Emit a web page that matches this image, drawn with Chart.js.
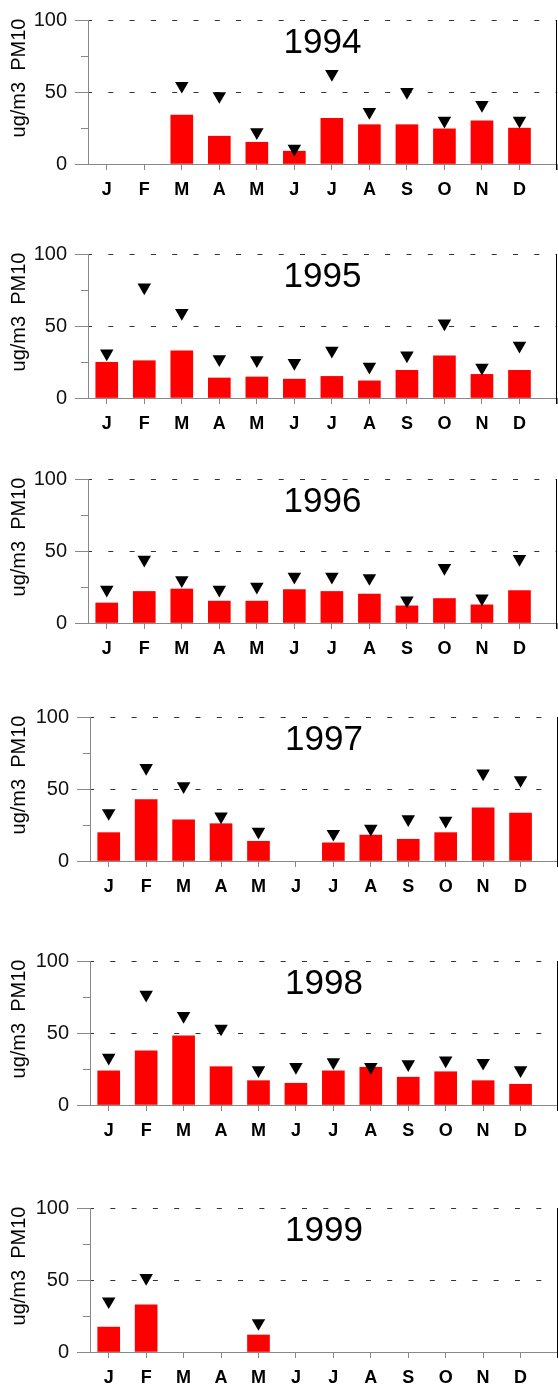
<!DOCTYPE html>
<html>
<head>
<meta charset="utf-8">
<script src="https://cdn.jsdelivr.net/npm/chart.js@4"></script>
<style>
  html, body { margin: 0; padding: 0; background: #fff; }
  body { width: 558px; height: 1391px; position: relative; overflow: hidden; }
  .panel { position: absolute; left: 0; width: 558px; height: 210px; }
</style>
</head>
<body>
<div id="charts"></div>
<script>
// month labels and the years shown
const months = ["J", "F", "M", "A", "M", "J", "J", "A", "S", "O", "N", "D"];
const years = ["1994", "1995", "1996", "1997", "1998", "1999"];

// monthly mean PM10 (red bars)
const mean1994 = [null, null, 34, 19.3, 15.1, 8.9, 31.8, 27.3, 27.3, 24.4, 30, 24.9];
const mean1995 = [24.8, 25.9, 32.7, 13.9, 14.6, 13.1, 15, 11.9, 19.2, 29.2, 16.4, 19.2];
const mean1996 = [13.9, 21.9, 23.6, 15.2, 15.2, 23.2, 21.9, 20.1, 11.9, 17, 12.6, 22.5];
const mean1997 = [19.7, 42.6, 28.6, 25.9, 13.7, null, 12.6, 18, 15.1, 19.7, 37, 33.3];
const mean1998 = [23.7, 37.7, 48.1, 26.6, 16.9, 15.1, 23.7, 26.2, 19.3, 23.1, 16.9, 14.4];
const mean1999 = [17.3, 32.7, null, null, 11.8, null, null, null, null, null, null, null];

// monthly maximum PM10 (black triangles)
const max1994 = [null, null, 54.3, 47.2, 22.1, 10.7, 62.5, 36.1, 50.1, 30.1, 41, 30.1];
const max1995 = [31, 76.8, 59.1, 26.9, 26.2, 24.4, 32.8, 21.7, 29.5, 51.8, 21, 36.3];
const max1996 = [23.2, 44, 29.8, 23.2, 25.2, 32.2, 32.2, 31.2, 15.7, 38.3, 17.1, 44.5];
const max1997 = [33.3, 64.6, 52, 30.9, 20.3, null, 18.9, 22.5, 29.1, 28, 60.8, 56.2];
const max1998 = [32.9, 76.6, 61.9, 53.1, 24.2, 26.4, 29.8, 26.4, 28.4, 31, 29.3, 24.2];
const max1999 = [35.2, 51.4, null, null, 20.1, null, null, null, null, null, null, null];

// y axis
const yTicks = [0, 25, 50, 75, 100];
const yLabel = "ug/m3  PM10";

const means = [mean1994, mean1995, mean1996, mean1997, mean1998, mean1999];
const maxes = [max1994, max1995, max1996, max1997, max1998, max1999];

// where each panel sits on the page (top of the 100 line, left axis x)
const layouts = [
    { top: 14, left: 88, right: 1 },
    { top: 248, left: 88, right: 1 },
    { top: 473, left: 88, right: 1 },
    { top: 711, left: 90, right: 0 },
    { top: 955, left: 90, right: 0 },
    { top: 1202, left: 90, right: 0 }
];

const FONT = '"Liberation Sans", Arial, sans-serif';
const PAD_TOP = 14;
const PLOT_H = 150;
const CANVAS_H = 210;

// minor ticks, right frame, year title and y label
const extras = {
    id: "extras",
    afterDraw(chart, args, opts) {
        const { ctx, chartArea: a, scales: { y } } = chart;
        ctx.save();
        ctx.strokeStyle = "#888";
        ctx.lineWidth = 1;
        yTicks.filter(v => v % 50 !== 0).forEach(v => {
            const py = Math.round(y.getPixelForValue(v)) + 0.5;
            ctx.beginPath();
            ctx.moveTo(a.left - 7, py);
            ctx.lineTo(a.left, py);
            ctx.stroke();
        });
        ctx.strokeStyle = "#000";
        ctx.beginPath();
        ctx.moveTo(Math.round(a.right) - 0.5, a.top);
        ctx.lineTo(Math.round(a.right) - 0.5, a.bottom + 6);
        ctx.stroke();

        ctx.fillStyle = "#000";
        ctx.textAlign = "center";
        ctx.textBaseline = "middle";
        ctx.font = "35px " + FONT;
        ctx.fillText(opts.year, (a.left + a.right) / 2, a.top + 23);

        ctx.translate(19, a.top + 58);
        ctx.rotate(-Math.PI / 2);
        ctx.font = "20px " + FONT;
        ctx.fillText(yLabel, 0, 0);
        ctx.restore();
    }
};

const holder = document.getElementById("charts");

years.forEach((year, k) => {
    const lay = layouts[k];
    const div = document.createElement("div");
    div.className = "panel";
    div.style.top = (lay.top - PAD_TOP) + "px";
    const canvas = document.createElement("canvas");
    canvas.width = 558;
    canvas.height = CANVAS_H;
    div.appendChild(canvas);
    holder.appendChild(div);

    const bars = means[k].map((v, i) => ({ x: i + 1, y: v })).filter(p => p.y !== null);
    const tops = maxes[k].map((v, i) => ({ x: i + 1, y: v })).filter(p => p.y !== null);

    new Chart(canvas, {
        type: "bar",
        data: {
            datasets: [
                {
                    type: "line",
                    data: tops,
                    showLine: false,
                    pointStyle: "triangle",
                    rotation: 180,
                    pointRadius: 7.8,
                    pointBackgroundColor: "#000",
                    pointBorderColor: "#000",
                    pointBorderWidth: 0,
                    order: 0
                },
                {
                    type: "bar",
                    data: bars,
                    backgroundColor: "#ff0000",
                    borderWidth: 0,
                    barThickness: 22,
                    order: 1
                }
            ]
        },
        options: {
            responsive: false,
            animation: false,
            layout: {
                autoPadding: false,
                padding: { top: PAD_TOP, left: 0, right: lay.right, bottom: 0 }
            },
            plugins: {
                legend: { display: false },
                tooltip: { enabled: false },
                extras: { year: year }
            },
            scales: {
                x: {
                    type: "linear",
                    min: 0.5,
                    max: 13,
                    offset: false,
                    afterBuildTicks: scale => {
                        scale.ticks = months.map((m, i) => ({ value: i + 1 })).concat([{ value: 13 }]);
                    },
                    afterFit: scale => {
                        scale.height = CANVAS_H - PAD_TOP - PLOT_H;
                        scale.paddingLeft = 0;
                        scale.paddingRight = 0;
                    },
                    ticks: {
                        autoSkip: false,
                        maxRotation: 0,
                        padding: 9,
                        color: "#000",
                        font: { family: FONT, size: 18, weight: "bold" },
                        callback: v => months[v - 1] || ""
                    },
                    grid: {
                        offset: false,
                        drawOnChartArea: false,
                        drawTicks: true,
                        tickLength: 6,
                        tickColor: "#888"
                    },
                    border: { color: "#888", width: 1 }
                },
                y: {
                    min: 0,
                    max: 100,
                    afterBuildTicks: scale => {
                        scale.ticks = yTicks.map(v => ({ value: v }));
                    },
                    afterFit: scale => { scale.width = lay.left; },
                    ticks: {
                        padding: 8,
                        color: "#111",
                        font: { family: FONT, size: 20 },
                        callback: v => (v % 50 === 0 ? String(v) : "")
                    },
                    grid: {
                        drawTicks: true,
                        tickLength: 13,
                        color: c => (c.tick && c.tick.value > 0 && c.tick.value % 50 === 0) ? "#333" : "rgba(0,0,0,0)",
                        tickColor: c => (c.tick && c.tick.value % 50 === 0) ? "#888" : "rgba(0,0,0,0)"
                    },
                    border: { color: "#888", width: 1, dash: [5, 16.3], dashOffset: 2 }
                }
            }
        },
        plugins: [extras]
    });
});
</script>
</body>
</html>
